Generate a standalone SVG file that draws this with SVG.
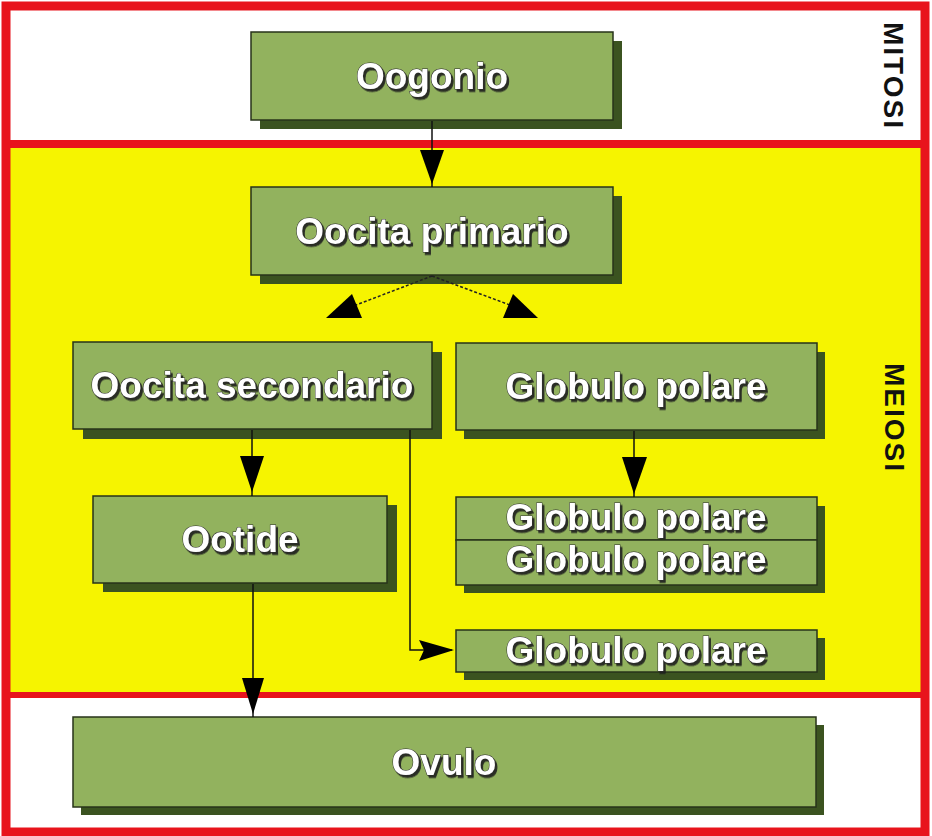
<svg xmlns="http://www.w3.org/2000/svg" width="932" height="836" viewBox="0 0 932 836">
<defs>
<style>
.box{fill:#92b25e;stroke:#27331a;stroke-width:1.5}
.shadow{fill:#3b5320}
.lbl{font-family:"Liberation Sans",Arial,sans-serif;font-weight:bold;font-size:37px;fill:#ffffff;stroke:#2e2e2e;stroke-width:1;paint-order:stroke;text-anchor:middle;filter:url(#ts)}
.side{font-family:"Liberation Sans",Arial,sans-serif;font-weight:bold;font-size:28px;fill:#111;letter-spacing:2px}
.ln{fill:none;stroke:#111;stroke-width:1.5}
.dash{fill:none;stroke:#222;stroke-width:1.5;stroke-dasharray:3 2}
.ah{fill:#000}
</style>
<filter id="ts" x="-10%" y="-30%" width="120%" height="160%">
<feDropShadow dx="2" dy="2.5" stdDeviation="0.6" flood-color="#1e1e1e" flood-opacity="0.9"/>
</filter>
</defs>

<g id="background">
<rect x="0" y="0" width="932" height="836" fill="#ffffff"/>
<rect x="10" y="148" width="911" height="545" fill="#f6f400"/>
<rect x="6" y="6" width="919" height="826" fill="none" stroke="#e8141c" stroke-width="9"/>
<line x1="6" y1="144" x2="925" y2="144" stroke="#e8141c" stroke-width="8"/>
<line x1="6" y1="695" x2="925" y2="695" stroke="#e8141c" stroke-width="6"/>
<text class="side" transform="translate(884,22) rotate(90)">MITOSI</text>
<text class="side" transform="translate(885,363) rotate(90)">MEIOSI</text>
</g>

<g id="oogonio">
<rect class="shadow" x="260" y="41" width="362" height="88"/>
<rect class="box" x="251" y="32" width="362" height="88"/>
<text class="lbl" x="432" y="89">Oogonio</text>
</g>

<g id="oocita-primario">
<rect class="shadow" x="260" y="196" width="362" height="88"/>
<rect class="box" x="251" y="187" width="362" height="88"/>
<text class="lbl" x="432" y="244">Oocita primario</text>
</g>

<g id="oocita-secondario">
<rect class="shadow" x="83" y="352" width="359" height="87"/>
<rect class="box" x="73" y="342" width="359" height="87"/>
<text class="lbl" x="252" y="398">Oocita secondario</text>
</g>

<g id="globulo-polare-1">
<rect class="shadow" x="464" y="352" width="361" height="87"/>
<rect class="box" x="456" y="343" width="361" height="87"/>
<text class="lbl" x="636" y="399">Globulo polare</text>
</g>

<g id="ootide">
<rect class="shadow" x="103" y="505" width="294" height="87"/>
<rect class="box" x="93" y="496" width="294" height="87"/>
<text class="lbl" x="240" y="552">Ootide</text>
</g>

<g id="globulo-polare-pair">
<rect class="shadow" x="464" y="506" width="361" height="87"/>
<g id="globulo-polare-2">
<rect class="box" x="456" y="497" width="361" height="43"/>
<text class="lbl" x="636" y="530">Globulo polare</text>
</g>
<g id="globulo-polare-3">
<rect class="box" x="456" y="540" width="361" height="45"/>
<text class="lbl" x="636" y="572">Globulo polare</text>
</g>
</g>

<g id="globulo-polare-4">
<rect class="shadow" x="464" y="638" width="361" height="42"/>
<rect class="box" x="456" y="630" width="361" height="42"/>
<text class="lbl" x="636" y="663">Globulo polare</text>
</g>

<g id="ovulo">
<rect class="shadow" x="81" y="725" width="743" height="90"/>
<rect class="box" x="73" y="717" width="743" height="90"/>
<text class="lbl" x="444" y="775">Ovulo</text>
</g>

<g id="connectors">
<line class="ln" x1="432" y1="121" x2="432" y2="187"/>
<polygon class="ah" points="420,150 444,150 432,184"/>
<line class="dash" x1="432" y1="276" x2="356" y2="305"/>
<polygon class="ah" points="326,318 352,294 362,318"/>
<line class="dash" x1="432" y1="276" x2="510" y2="305"/>
<polygon class="ah" points="503,318 513,294 538,318"/>
<line class="ln" x1="252" y1="430" x2="252" y2="496"/>
<polygon class="ah" points="240,456 264,456 252,492"/>
<polyline class="ln" points="410,430 410,650 452,650"/>
<polygon class="ah" points="419,640 454,650 419,661 424,650"/>
<line class="ln" x1="634" y1="431" x2="634" y2="497"/>
<polygon class="ah" points="622,457 647,457 634,494"/>
<line class="ln" x1="253" y1="584" x2="253" y2="717"/>
<polygon class="ah" points="242,678 264,678 253,714"/>
</g>
</svg>
